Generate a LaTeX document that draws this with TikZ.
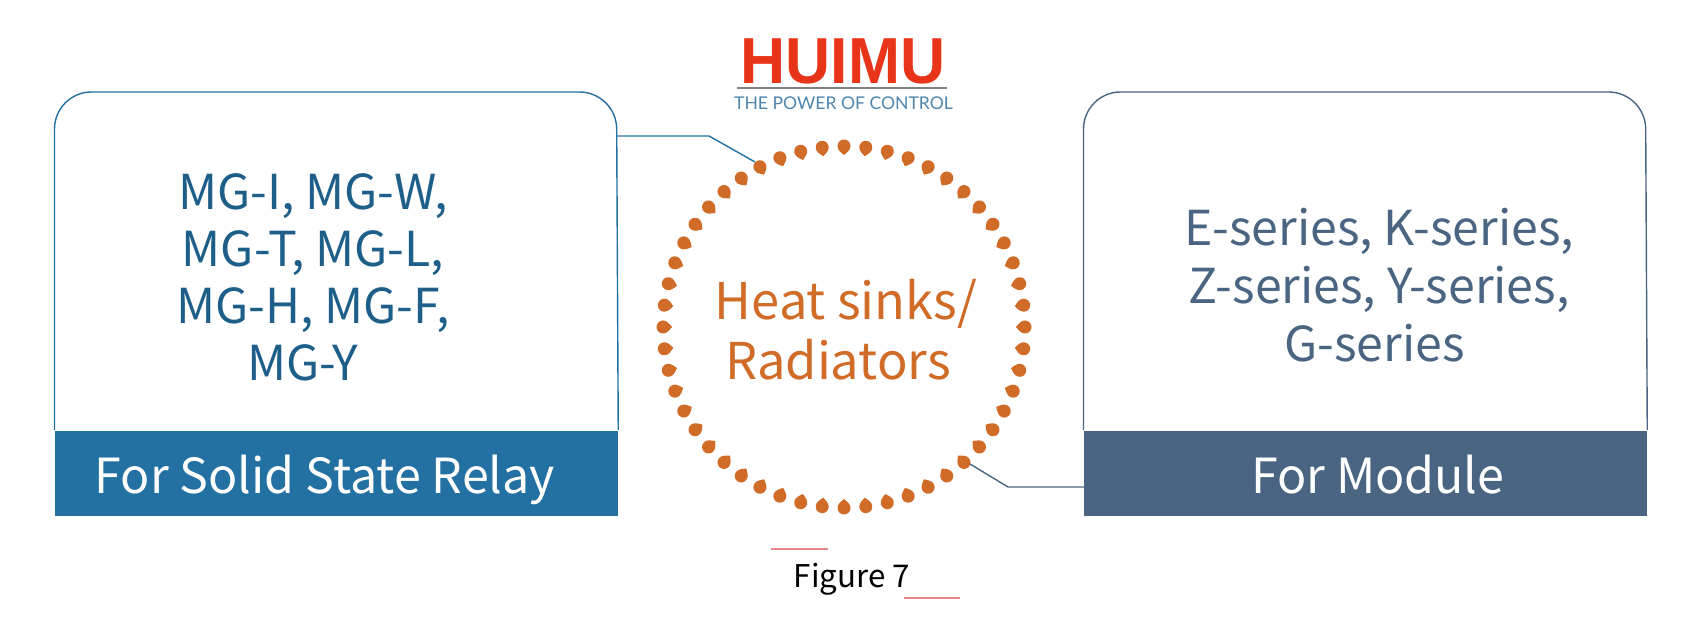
\documentclass[tikz,border=0pt]{standalone}
\usepackage{fontspec}
\setmainfont{Noto Sans CJK SC}
\newfontfamily\logofont{Liberation Sans}
\newfontfamily\tagfont{Lato}
\usetikzlibrary{positioning}
\definecolor{SsrClr}{HTML}{2370A2}
\definecolor{ModClr}{HTML}{4A6582}
\definecolor{DropClr}{HTML}{D06C28}
\definecolor{LogoClr}{HTML}{E83418}
\definecolor{TagClr}{HTML}{4F86AE}
\definecolor{RuleClr}{HTML}{E8868C}
\tikzset{
  bandbox/.style={minimum width=5.62cm,minimum height=0.85cm,inner sep=0pt,text=white,text height=0.51cm,text depth=0.1cm,font=\fontsize{13.75}{16}\selectfont},
  listtext/.style={align=center,inner sep=0pt,font=\fontsize{13.7}{16.4}\selectfont},
  linkline/.style={line width=0.4pt},
  redrule/.style={RuleClr,line width=0.45pt}
}

\begin{document}
\begin{tikzpicture}[x=0.01cm,y=0.01cm]
\useasboundingbox (0,0) rectangle (1701,628);

% logo
\node[inner sep=0pt,text=LogoClr,xscale=0.96,font=\fontsize{18.5}{20}\logofont\bfseries] (logo) at (843,567) {HUIMU};
\node[inner sep=0pt,text=TagClr,font=\fontsize{5}{7}\tagfont] (tag) at (843.5,525) {THE POWER OF CONTROL};
\draw[gray,line width=0.5pt] (737,540) -- (947,540);

% left box
\node[bandbox,fill=SsrClr,anchor=south west] (ssr) at (54.5,111.5) {\hspace*{-0.23cm}For Solid State Relay};
\draw[SsrClr,linkline,rounded corners=0.37cm] (ssr.north west) -- (54.5,536) -- (616.5,536) -- (ssr.north east);
\node[listtext,text=SsrClr!85!black,font=\fontsize{13.7}{16.25}\selectfont] (mglist) at (313,350.5) {MG-I, MG-W,\\MG-T, MG-L,\\MG-H, MG-F,\\MG-Y\hspace*{0.2cm}};

% right box
\node[bandbox,fill=ModClr,anchor=south west] (mod) at (1083.5,111.5) {\hspace*{0.25cm}For Module};
\draw[ModClr,linkline,rounded corners=0.37cm] (mod.north west) -- (1083.5,536) -- (1645.5,536) -- (mod.north east);
\node[listtext,text=ModClr] (serlist) at (1379,343) {E-series, K-series,\\Z-series, Y-series,\\G-series\hspace*{0.09cm}};

% ring of drops
\coordinate (ringc) at (844,301);
\foreach \i in {0,...,51}{
  \fill[DropClr,shift={(ringc)},rotate=\i*6.923,shift={(180,0)}] (-8,0) .. controls (-5,3.5) and (-3,6.5) .. (1,6.5) arc (90:-90:6.5) .. controls (-3,-6.5) and (-5,-3.5) .. cycle;
}
\node[align=center,inner sep=0pt,text=DropClr,font=\fontsize{14.4}{17}\selectfont] (heat) at (846,298) {Heat sinks/\\Radiators\hspace*{0.16cm}};

% links
\coordinate (dropa) at (755,466);
\coordinate (dropb) at (970,164);
\draw[SsrClr,linkline] (616,492) -- (709,492) -- (dropa);
\draw[ModClr,linkline] (dropb) -- (1008,141) -- (1084,141);

% caption
\node[inner sep=0pt,font=\fontsize{8.9}{11}\selectfont] (fig) at (852,49) {Figure 7};
\draw[redrule] (771,79) -- (828,79);
\draw[redrule] (904,30) -- (960,30);
\end{tikzpicture}
\end{document}
